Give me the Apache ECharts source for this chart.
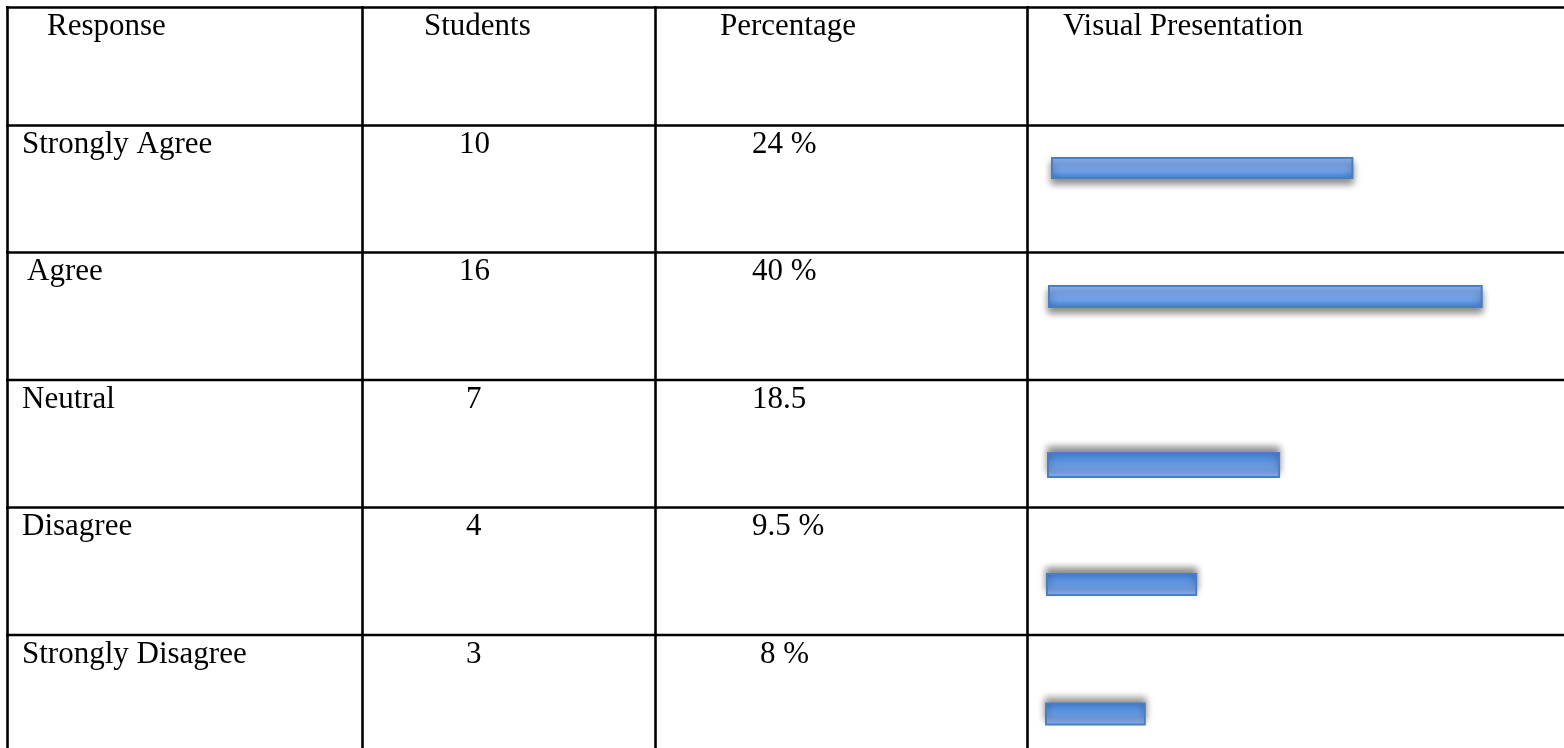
<!DOCTYPE html>
<html>
<head>
<meta charset="utf-8">
<script src="https://cdn.jsdelivr.net/npm/echarts@6/dist/echarts.min.js"></script>
<style>
html,body{margin:0;padding:0;background:#fff;}
#chart{width:1564px;height:748px;}
</style>
</head>
<body>
<div id="chart"></div>
<script>
// ---- data ----
const headers = ['Response', 'Students', 'Percentage', 'Visual Presentation'];
const responses = ['Strongly Agree', 'Agree', 'Neutral', 'Disagree', 'Strongly Disagree'];
const students = [10, 16, 7, 4, 3];
const percentLabels = ['24 %', '40 %', '18.5', '9.5 %', '8 %'];
const barValues = [24, 34.5, 18.5, 12, 8]; // bar lengths as drawn, in % units

// ---- layout ----
const colLines = [7.5, 362.5, 655.5, 1027.5];
const rowLines = [7.5, 125.5, 252.5, 380, 507.5, 635];
const headerX = [47, 424, 720, 1063];
const respX = [22, 27, 22, 22, 22];
const studX = [459, 459, 466, 466, 466];
const pctX = [752, 752, 752, 752, 760];
const barLeft = [1051, 1048, 1047, 1046, 1045];
const barCenter = [168, 296.5, 465, 584.5, 714];
const barHeight = [22, 23, 26, 23, 23];
const barFlip = [false, false, true, true, true];
const pxPerUnit = 12.6;
const axisMax = 40;

const FONT = '"Liberation Serif", "Times New Roman", serif';
const FS = 31;

const chart = echarts.init(document.getElementById('chart'), null, {renderer: 'canvas'});

const graphic = [];
rowLines.forEach(y => {
  graphic.push({type: 'line', shape: {x1: 6, y1: y, x2: 1564, y2: y}, style: {stroke: '#000', lineWidth: 2.6}, z: 10});
});
colLines.forEach(x => {
  graphic.push({type: 'line', shape: {x1: x, y1: 6, x2: x, y2: 748}, style: {stroke: '#000', lineWidth: 2.6}, z: 10});
});
function txt(s, x, baseline) {
  return {type: 'text', x: x, y: baseline - 10.5, style: {text: s, font: FS + 'px ' + FONT, fill: '#000', verticalAlign: 'middle', align: 'left'}, z: 11};
}
headers.forEach((h, i) => graphic.push(txt(h, headerX[i], rowLines[0] + 30)));
responses.forEach((r, i) => {
  const b = rowLines[i + 1] + 30;
  graphic.push(txt(r, respX[i], b));
  graphic.push(txt(String(students[i]), studX[i], b));
  graphic.push(txt(percentLabels[i], pctX[i], b));
});

const grids = [], xAxes = [], yAxes = [], series = [];
barValues.forEach((v, i) => {
  grids.push({left: barLeft[i], top: barCenter[i] - 20, height: 40, width: axisMax * pxPerUnit, containLabel: false});
  xAxes.push({type: 'value', gridIndex: i, min: 0, max: axisMax, show: false});
  yAxes.push({type: 'category', gridIndex: i, data: [responses[i]], show: false});
  const light = '#93b8f7', dark = '#3e7cd0';
  const stops = barFlip[i]
    ? [{offset: 0, color: dark}, {offset: 0.35, color: '#5b92de'}, {offset: 1, color: light}]
    : [{offset: 0, color: light}, {offset: 0.65, color: '#6d9fe6'}, {offset: 1, color: dark}];
  series.push({
    type: 'bar', xAxisIndex: i, yAxisIndex: i, data: [v], barWidth: barHeight[i],
    silent: true,
    itemStyle: {
      color: new echarts.graphic.LinearGradient(0, 0, 0, 1, stops),
      borderColor: '#4a7ebf', borderWidth: 2,
      shadowColor: 'rgba(0,0,0,0.45)', shadowBlur: 7, shadowOffsetY: barFlip[i] ? -5 : 5
    }
  });
});

chart.setOption({
  animation: false,
  backgroundColor: '#ffffff',
  grid: grids, xAxis: xAxes, yAxis: yAxes, series: series,
  graphic: graphic
});
</script>
</body>
</html>
